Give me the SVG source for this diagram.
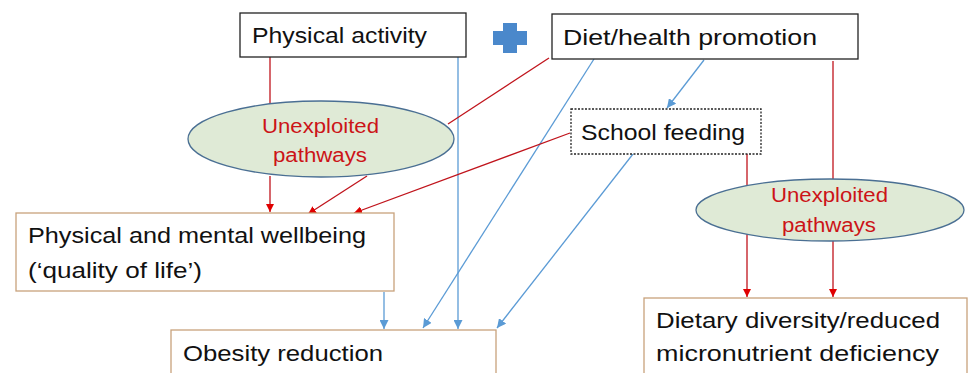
<svg xmlns="http://www.w3.org/2000/svg" width="968" height="373" viewBox="0 0 968 373">
<style>
.lbl{font-family:"Liberation Sans",Arial,sans-serif;font-size:22px;fill:#111}
.up{font-family:"Liberation Sans",Arial,sans-serif;font-size:20px;fill:#cc1418}
.bx{fill:#fff;stroke:#222;stroke-width:1.3}
.ob{fill:#fff;stroke:#c8a27c;stroke-width:1.3}
.el{fill:#dfead6;stroke:#4a6f93;stroke-width:1.3}
.r{stroke:#c0141c;stroke-width:1.3;fill:none}
.b{stroke:#5b9bd5;stroke-width:1.3;fill:none}
</style>
<defs>
<marker id="ar" viewBox="0 0 10 10" refX="10" refY="5" markerWidth="8" markerHeight="8" markerUnits="userSpaceOnUse" orient="auto"><path d="M0,0L10,5L0,10z" fill="#e00000"/></marker>
<marker id="ab" viewBox="0 0 10 10" refX="10" refY="5" markerWidth="9" markerHeight="9" markerUnits="userSpaceOnUse" orient="auto"><path d="M0,0L10,5L0,10z" fill="#5b9bd5"/></marker>
</defs>
<rect width="968" height="373" fill="#fff"/>
<g id="connectors">
<line class="r" x1="270" y1="57" x2="270" y2="105"/>
<line class="r" x1="270" y1="176" x2="270" y2="212" marker-end="url(#ar)"/>
<line class="b" x1="458" y1="57" x2="458" y2="329" marker-end="url(#ab)"/>
<line class="r" x1="549" y1="58" x2="448" y2="124"/>
<line class="r" x1="367" y1="176" x2="308" y2="214" marker-end="url(#ar)"/>
<line class="b" x1="594" y1="59" x2="423" y2="328" marker-end="url(#ab)"/>
<line class="b" x1="704" y1="60" x2="667" y2="108" marker-end="url(#ab)"/>
<line class="r" x1="570" y1="133" x2="354" y2="213" marker-end="url(#ar)"/>
<line class="b" x1="633" y1="154" x2="497" y2="328" marker-end="url(#ab)"/>
<line class="b" x1="384" y1="292" x2="384" y2="329" marker-end="url(#ab)"/>
<line class="r" x1="747" y1="154" x2="747" y2="185"/>
<line class="r" x1="747" y1="234" x2="747" y2="297" marker-end="url(#ar)"/>
<line class="r" x1="833" y1="61" x2="833" y2="179"/>
<line class="r" x1="833" y1="240" x2="833" y2="297" marker-end="url(#ar)"/>
</g>
<g id="plus"><path d="M503,23h14v8h10v14h-10v8h-14v-8h-10v-14h10z" fill="#4a88cb"/></g>
<g id="physical-activity"><rect class="bx" x="240" y="13" width="226" height="44"/><text class="lbl" x="252" y="43" textLength="175" lengthAdjust="spacingAndGlyphs">Physical activity</text></g>
<g id="diet-health"><rect class="bx" x="552" y="14" width="306" height="45"/><text class="lbl" x="563" y="45" textLength="254" lengthAdjust="spacingAndGlyphs">Diet/health promotion</text></g>
<g id="school-feeding"><rect class="bx" x="571" y="109" width="190" height="45" stroke-dasharray="2,1.5"/><text class="lbl" x="581" y="140" textLength="164" lengthAdjust="spacingAndGlyphs">School feeding</text></g>
<g id="unexploited-1"><ellipse class="el" cx="321" cy="139" rx="133" ry="38"/><text class="up" x="262" y="133" textLength="117" lengthAdjust="spacingAndGlyphs">Unexploited</text><text class="up" x="273" y="162" textLength="94" lengthAdjust="spacingAndGlyphs">pathways</text></g>
<g id="unexploited-2"><ellipse class="el" cx="830" cy="210" rx="134" ry="31"/><text class="up" x="771" y="202" textLength="117" lengthAdjust="spacingAndGlyphs">Unexploited</text><text class="up" x="782" y="232" textLength="94" lengthAdjust="spacingAndGlyphs">pathways</text></g>
<g id="wellbeing"><rect class="ob" x="16" y="213" width="378" height="78"/><text class="lbl" x="28" y="243" textLength="338" lengthAdjust="spacingAndGlyphs">Physical and mental wellbeing</text><text class="lbl" x="28" y="278" textLength="174" lengthAdjust="spacingAndGlyphs">(‘quality of life’)</text></g>
<g id="obesity"><rect class="ob" x="171" y="330" width="325" height="60"/><text class="lbl" x="183" y="361" textLength="200" lengthAdjust="spacingAndGlyphs">Obesity reduction</text></g>
<g id="dietary"><rect class="ob" x="644" y="298" width="323" height="90"/><text class="lbl" x="656" y="328" textLength="284" lengthAdjust="spacingAndGlyphs">Dietary diversity/reduced</text><text class="lbl" x="656" y="361" textLength="283" lengthAdjust="spacingAndGlyphs">micronutrient deficiency</text></g>
</svg>
